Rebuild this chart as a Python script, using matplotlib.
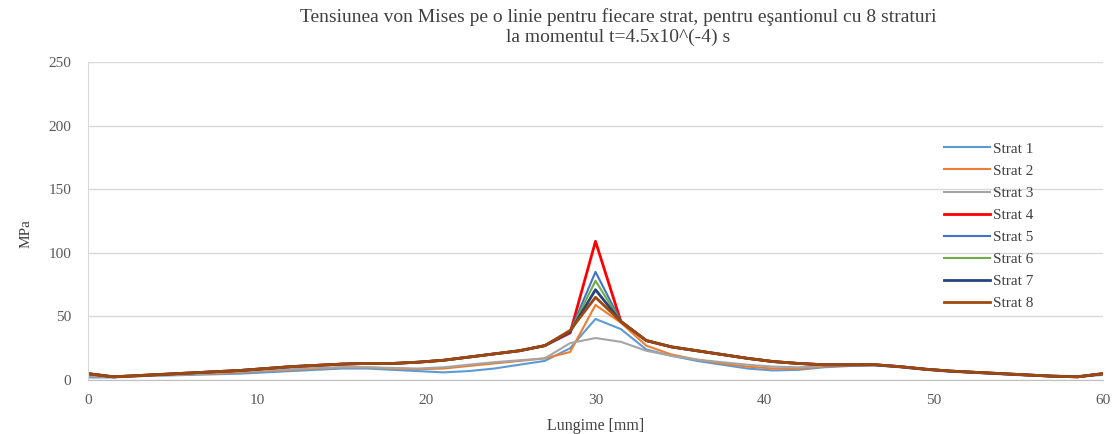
import matplotlib
matplotlib.use("Agg")
import matplotlib.pyplot as plt

plt.rcParams['font.family'] = ['Liberation Serif', 'DejaVu Serif']

# lungime [mm]
lungime = [0, 1.5, 3, 4.5, 6, 7.5, 9, 10.5, 12, 13.5, 15, 16.5, 18, 19.5, 21, 22.5, 24, 25.5, 27, 28.5,
           30, 31.5, 33, 34.5, 36, 37.5, 39, 40.5, 42, 43.5, 45, 46.5, 48, 49.5, 51, 52.5, 54, 55.5, 57, 58.5, 60]

# tensiunea von Mises [MPa]
strat1 = [2, 2, 3, 3.5, 4, 4.5, 5, 6, 7, 8, 9, 9, 8, 7, 6, 7, 9, 12, 15, 25,
          48, 40, 24, 19, 15, 12, 9, 7.5, 8, 10, 11, 11.5, 10, 8, 6.5, 5.5, 4.5, 3.5, 3, 2.5, 4]
strat2 = [3, 2.5, 3, 4, 4.5, 5, 6, 7, 8, 9, 10, 10, 9, 8.5, 9, 11, 13, 15, 17, 22,
          59, 45, 27, 20, 16, 13, 10.5, 9, 9, 10.5, 11.5, 12, 10.5, 8.5, 7, 6, 5, 4, 3, 2.5, 4.5]
strat3 = [3, 2.5, 3, 4, 4.5, 5.5, 6.5, 7.5, 8.5, 9.5, 10, 10, 9.5, 9, 10, 12, 14, 15.5, 17, 29,
          33, 30, 23, 19, 16, 14, 12, 10.5, 10, 11, 12, 12, 10.5, 8.5, 7, 6, 5, 4, 3.5, 3, 5]
strat4 = [5, 2.5, 3.5, 4.5, 5.5, 6.5, 7.5, 9, 10.5, 11.5, 12.5, 13, 13, 14, 15.5, 18, 20.5, 23, 27, 37,
          109, 46, 31, 26, 23, 20, 17, 14.5, 13, 12, 12, 12, 10.5, 8.5, 7, 6, 5, 4, 3, 2.5, 5]
strat5 = [5, 2.5, 3.5, 4.5, 5.5, 6.5, 7.5, 9, 10.5, 11.5, 12.5, 13, 13, 14, 15.5, 18, 20.5, 23, 27, 38,
          85, 46, 31, 26, 23, 20, 17, 14.5, 13, 12, 12, 12, 10.5, 8.5, 7, 6, 5, 4, 3, 2.5, 5]
strat6 = [5, 2.5, 3.5, 4.5, 5.5, 6.5, 7.5, 9, 10.5, 11.5, 12.5, 13, 13, 14, 15.5, 18, 20.5, 23, 27, 38,
          78, 46, 31, 26, 23, 20, 17, 14.5, 13, 12, 12, 12, 10.5, 8.5, 7, 6, 5, 4, 3, 2.5, 5]
strat7 = [5, 2.5, 3.5, 4.5, 5.5, 6.5, 7.5, 9, 10.5, 11.5, 12.5, 13, 13, 14, 15.5, 18, 20.5, 23, 27, 38,
          71, 46, 31, 26, 23, 20, 17, 14.5, 13, 12, 12, 12, 10.5, 8.5, 7, 6, 5, 4, 3, 2.5, 5]
strat8 = [5, 2.5, 3.5, 4.5, 5.5, 6.5, 7.5, 9, 10.5, 11.5, 12.5, 13, 13, 14, 15.5, 18, 20.5, 23, 27, 39,
          65, 46, 31, 26, 23, 20, 17, 14.5, 13, 12, 12, 12, 10.5, 8.5, 7, 6, 5, 4, 3, 2.5, 5]

etichete = ['Strat 1', 'Strat 2', 'Strat 3', 'Strat 4', 'Strat 5', 'Strat 6', 'Strat 7', 'Strat 8']
serii = [strat1, strat2, strat3, strat4, strat5, strat6, strat7, strat8]
culori = ['#5B9BD5', '#ED7D31', '#A5A5A5', '#FF0000', '#4472C4', '#70AD47', '#264478', '#9E480E']
grosimi = [1.5, 1.5, 1.5, 2.0, 1.5, 1.5, 2.0, 2.0]

fig = plt.figure(figsize=(11.14, 4.34), dpi=100)
ax = fig.add_axes([88 / 1114, 1 - 380 / 434, (1103 - 88) / 1114, (380 - 62) / 434])

for y, lab, c, lw in zip(serii, etichete, culori, grosimi):
    ax.plot(lungime, y, color=c, lw=lw, label=lab)

ax.set_xlim(0, 60)
ax.set_ylim(0, 250)
ax.set_xticks([0, 10, 20, 30, 40, 50, 60])
ax.set_yticks([0, 50, 100, 150, 200, 250])
ax.grid(axis='y', color='#D9D9D9', lw=1)
ax.set_axisbelow(True)
for s in ['top', 'right']:
    ax.spines[s].set_visible(False)
ax.spines['left'].set_color('#D9D9D9')
ax.spines['bottom'].set_color('#BFBFBF')
ax.tick_params(length=0, labelsize=11, colors='#595959')
ax.tick_params(axis='x', pad=10)
ax.tick_params(axis='y', pad=12)

ax.set_xlabel('Lungime [mm]', fontsize=11.5, color='#404040')
ax.xaxis.set_label_coords(0.5, -0.12)
ax.set_ylabel('MPa', fontsize=11, color='#404040')
ax.yaxis.set_label_coords(-0.055, 0.46)

fig.text(618 / 1114, 1 - 17 / 434, 'Tensiunea von Mises pe o linie pentru fiecare strat, pentru eşantionul cu 8 straturi',
         ha='center', va='center', fontsize=14, color='#404040')
fig.text(618 / 1114, 1 - 37 / 434, 'la momentul t=4.5x10^(-4) s',
         ha='center', va='center', fontsize=14, color='#404040')

ax.legend(loc='upper left', bbox_to_anchor=(944 / 1114, 1 - 142 / 434), bbox_transform=fig.transFigure,
          frameon=False, fontsize=11, handlelength=3.0, handletextpad=0.2, labelspacing=0.55,
          borderpad=0, borderaxespad=0, labelcolor='#404040')

fig.savefig('out.png', dpi=100)
